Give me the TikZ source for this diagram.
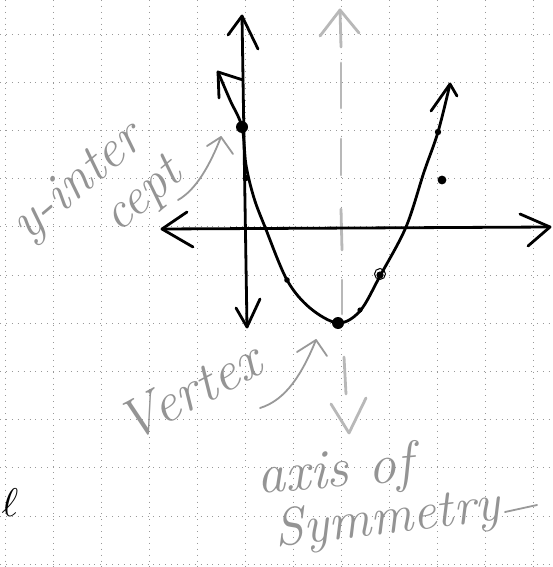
\documentclass[tikz,border=0pt]{standalone}
\usetikzlibrary{calc}
\begin{document}
\begin{tikzpicture}[x=1pt,y=-1pt]
\tikzset{
  gridline/.style={black!40, line width=0.8pt, dash pattern=on 0.9pt off 5pt},
  ink/.style={black, line width=2.8pt, line cap=round, line join=round},
  pencil/.style={black!40, line width=1.8pt, line cap=round, line join=round},
  axisgray/.style={black!28, line width=2.8pt, line cap=round, line join=round},
  hand/.style={text=black!42, inner sep=0pt},
  dotmark/.style={fill=black},
}
\useasboundingbox (0,0) rectangle (553,567);
\fill[white] (0,0) rectangle (553,567);
% graph-paper grid
\foreach \k in {0,...,11}{
  \draw[gridline] ({5+48*\k},0) -- ({5+48*\k},567);
  \draw[gridline] (0,{34+48.2*\k}) -- (553,{34+48.2*\k});
}
% axis of symmetry (gray dashed with arrows)
\coordinate (symtop) at (340,10);
\coordinate (symbot) at (349,433);
\draw[axisgray] (symtop) -- (341,47);
\draw[axisgray] (320,36) -- (symtop) -- (359,33);
\draw[axisgray] (341,63) -- (341,108);
\draw[axisgray] (341,139) -- (341,175);
\draw[axisgray] (341,209) -- (342,250);
\draw[axisgray] (342,280) -- (342,314);
\draw[axisgray] (344,357) -- (346,394);
\draw[axisgray] (331,404) -- (symbot) -- (366,398);
% axes
\coordinate (ytop) at (242,16);
\coordinate (ybot) at (247,327);
\coordinate (xl) at (162,229);
\coordinate (xr) at (550,227);
\draw[ink] (ybot) -- (ytop);
\draw[ink] (228,35) -- (ytop) -- (258,49);
\draw[ink] (236,308) -- (ybot) -- (260,299);
\draw[ink] (xl) -- (xr);
\draw[ink] (187,212) -- (xl) -- (193,247);
\draw[ink] (520,214) -- (xr) -- (528,246);
% parabola
\coordinate (pl) at (218,72);
\coordinate (yint) at (242,127);
\coordinate (vtx) at (338,323);
\coordinate (pr) at (450,84);
\draw[ink] plot[smooth, tension=0.55] coordinates {(pl) (230,100) (yint) (246,165) (254,198) (265,227) (287,280) (310,308) (vtx) (360,311) (380,276) (406,227) (424,172) (438,132) (pr)};
\draw[ink] (243,80) -- (pl) -- (219,98);
\draw[ink] (431,111) -- (pr) -- (457,96);
% plotted points
\fill[dotmark] (yint) circle (6);
\fill[dotmark] (246,178) circle (3.2);
\fill[dotmark] (287,280) circle (2.8);
\fill[dotmark] (vtx) circle (6);
\fill[dotmark] (360,310) circle (2.6);
\fill[dotmark] (380,275) circle (3.6);
\draw[black, line width=1pt] (380,274) circle (5.5);
\fill[dotmark] (438,132) circle (3.2);
\fill[dotmark] (442,180) circle (4.4);
% label arrows
\coordinate (yarr) at (221,137);
\draw[pencil] (178,200) .. controls (196,190) and (210,165) .. (yarr);
\draw[pencil] (207,146) -- (yarr) -- (233,154);
\coordinate (varr) at (316,340);
\draw[pencil] (260,408) .. controls (286,400) and (302,374) .. (varr);
\draw[pencil] (297,352) -- (varr) -- (327,356);
% labels
\node[hand, rotate=40, anchor=base west, font=\itshape\fontsize{54}{54}\selectfont] (lyi) at (27,243) {y-inter};
\node[hand, rotate=40, anchor=base west, font=\itshape\fontsize{52}{52}\selectfont] (lcept) at (118,234) {cept};
\node[hand, rotate=28, anchor=base west, font=\itshape\fontsize{56}{56}\selectfont] (lvert) at (130,444) {Vertex};
\node[hand, rotate=5, anchor=base west, font=\itshape\fontsize{56}{56}\selectfont] (laxis) at (258,494) {axis of};
\node[hand, rotate=7, anchor=base west, font=\itshape\fontsize{53}{53}\selectfont] (lsym) at (276,547) {Symmetry};
\draw[pencil] (505,512) -- (537,505);
\node[inner sep=0pt] (lell) at (10,503) {\scalebox{4}{$\ell$}};
\end{tikzpicture}
\end{document}
